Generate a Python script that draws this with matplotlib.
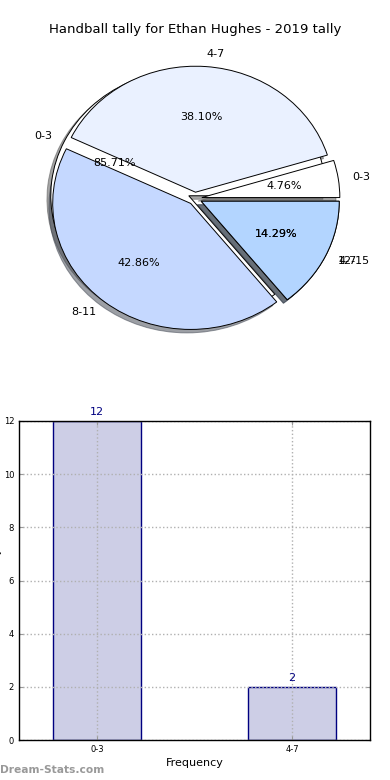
import matplotlib
matplotlib.use("Agg")
import matplotlib.pyplot as plt
import numpy as np

title = "Handball tally for Ethan Hughes - 2019 tally"
pie_labels = ["0-3", "4-7", "8-11", "12-15"]
pie_values = [1, 8, 9, 3]
pie_colors = ["#ffffff", "#eaf1ff", "#c5d8ff", "#b3d5ff"]

bar_labels = ["0-3", "4-7"]
bar_values = [12, 2]
bar_pie_colors = ["#ffffff", "#b3d5ff"]

fig = plt.figure(figsize=(3.9, 7.8), dpi=100)
fig.text(0.5, 1 - 30 / 780, title, ha="center", va="center", fontsize=9.5)

# Pie axes: centre at (195, 198.5) px, radii 138 x 126 px
cy = 198.5
h = 290
axp = fig.add_axes([0.0, (780 - cy - h / 2) / 780, 1.0, h / 780])
wp = dict(edgecolor="black", linewidth=0.7)
axp.pie(bar_values, labels=bar_labels, colors=bar_pie_colors, autopct="%.2f%%",
        startangle=0, explode=[0.05] * len(bar_values), shadow=True,
        wedgeprops=wp, textprops=dict(fontsize=8), labeldistance=1.1, pctdistance=0.6)
axp.pie(pie_values, labels=pie_labels, colors=pie_colors, autopct="%.2f%%",
        startangle=0, explode=[0.05] * len(pie_values), shadow=True,
        wedgeprops=wp, textprops=dict(fontsize=8), labeldistance=1.1, pctdistance=0.6)
axp.set_aspect("auto")
axp.set_xlim(-195 / 138, 195 / 138)
axp.set_ylim(-h / 2 / 126, h / 2 / 126)
axp.axis("off")

# Bar axes
axb = fig.add_axes([19 / 390, 40 / 780, 351 / 390, 319 / 780])
x = np.arange(len(bar_labels))
axb.bar(x, bar_values, width=0.45, color="#cdcee6", edgecolor="#000080", linewidth=1, zorder=2)
for xi, v in zip(x, bar_values):
    axb.annotate(str(v), (xi, v), xytext=(0, 3), textcoords="offset points",
                 ha="center", va="bottom", fontsize=8, color="#000080")
axb.set_xlim(-0.4, 1.4)
axb.set_ylim(0, 12)
axb.set_yticks(range(0, 13, 2))
axb.set_xticks(x)
axb.set_xticklabels(bar_labels)
axb.grid(True, linestyle=":", color="#b0b0b0", linewidth=1, zorder=3)
axb.set_axisbelow(False)
axb.tick_params(direction="in", top=True, right=True, labelsize=6, color="#999999", length=3)
for s in axb.spines.values():
    s.set_linewidth(1)
    s.set_zorder(5)
axb.set_xlabel("Frequency", fontsize=8, labelpad=3)
fig.text(-3 / 390, 1 - 580 / 780, "Student tally", rotation=90, ha="center", va="center", fontsize=7)

fig.text(0.0, 1 - 770 / 780, "Dream-Stats.com", ha="left", va="center", fontsize=7.7,
         color="#999999", fontweight="bold")

fig.savefig("out.png", dpi=100)
